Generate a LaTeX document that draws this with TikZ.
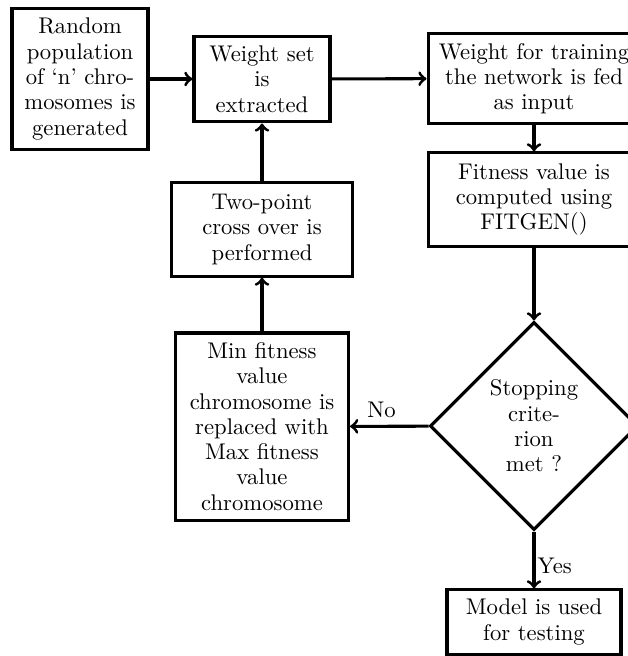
\documentclass[tikz,border=0pt]{standalone}
\usetikzlibrary{shapes.geometric,positioning}
\tikzset{
  block/.style={draw, rectangle, line width=1.4pt, align=center, inner sep=0pt},
  decision/.style={draw, diamond, aspect=1, line width=1.4pt, align=center, inner sep=0pt,
    minimum size=95.4pt},
  flow/.style={draw, line width=1.4pt, ->},
}
\begin{document}
\begin{tikzpicture}[x=0.4587pt,y=-0.4587pt,
  every node/.style={font=\fontsize{10.4}{11.6}\selectfont}]
\useasboundingbox (0,0) rectangle (628,656);
\clip (0,0) rectangle (628,656);
% blocks
\node[block, minimum width=62.4pt, minimum height=65.1pt] (pop) at (80,79)
  {Random\\population\\of `n' chro-\\mosomes is\\generated};
\node[block, minimum width=62.4pt, minimum height=39.4pt] (wset) at (262,79)
  {Weight set\\is\\extracted};
\node[block, minimum width=97.2pt, minimum height=41.7pt] (feed) at (534,78.5)
  {Weight for training\\the network is fed\\as input};
\node[block, minimum width=97.2pt, minimum height=42.7pt] (fit) at (534,199.5)
  {Fitness value is\\computed using\\FITGEN()};
\node[decision] (stop) at (534,426) {Stopping\\crite-\\rion\\met ?};
\node[block, minimum width=79.4pt, minimum height=85.8pt] (repl) at (262,426.5)
  {Min fitness\\value\\chromosome is\\replaced with\\Max fitness\\value\\chromosome};
\node[block, minimum width=82.6pt, minimum height=42.7pt] (cross) at (262,229.5)
  {Two-point\\cross over is\\performed};
\node[block, minimum width=79.8pt, minimum height=29.4pt] (model) at (534,622)
  {Model is used\\for testing};
% connectors
\draw[flow] (pop) -- (wset);
\draw[flow] (wset) -- (feed);
\draw[flow] (feed) -- (fit);
\draw[flow] (fit) -- (stop);
\draw[flow] (stop) -- node[above, pos=0.6] {No} (repl);
\draw[flow] (stop) -- node[right, pos=0.6, inner sep=1pt] {Yes} (model);
\draw[flow] (repl) -- (cross);
\draw[flow] (cross) -- (wset);
\end{tikzpicture}
\end{document}
